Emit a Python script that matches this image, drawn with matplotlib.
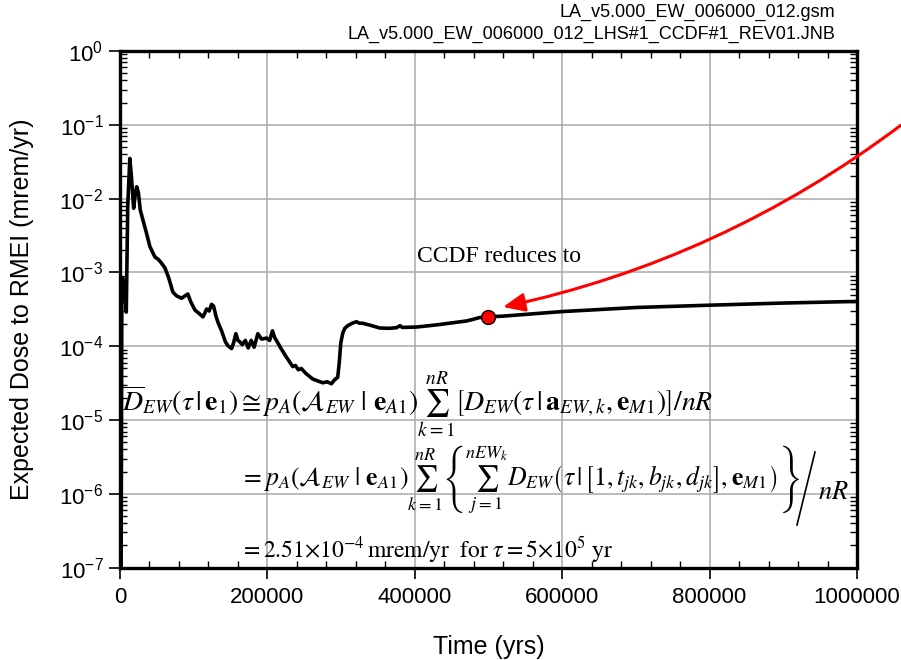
import matplotlib
matplotlib.use("Agg")
import matplotlib.pyplot as plt
from matplotlib.lines import Line2D
from matplotlib.ticker import MultipleLocator, LogLocator, FixedLocator

plt.rcParams["font.family"] = ["Liberation Sans", "DejaVu Sans"]
plt.rcParams["mathtext.fontset"] = "custom"
plt.rcParams["mathtext.rm"] = "Liberation Sans"
plt.rcParams["mathtext.it"] = "Liberation Sans:italic"
plt.rcParams["mathtext.bf"] = "Liberation Sans:bold"

# expected dose history (yr, mrem/yr)
time_yr = [0, 1000, 2500, 4000, 6000, 8500, 10500, 13300, 15500, 18500, 20500,
           22600, 25000, 27500, 31200, 35000, 40600, 44000, 47400, 52000, 56000,
           61000, 66000, 71800, 77000, 83600, 88000, 92100, 96000, 101600, 107000,
           112500, 115000, 117500, 121000, 124300, 127000, 130000, 133000, 138000,
           143000, 146300, 151400, 154000, 157200, 160000, 162600, 166000, 170000,
           174000, 178000, 182000, 187000, 192000, 198800, 203000, 206900, 210000,
           212300, 218000, 225900, 234400, 238000, 242000, 246000, 252000, 261500,
           268000, 275100, 281000, 286900, 291000, 295400, 297500, 299500, 302200,
           305000, 309000, 315000, 320700, 325000, 329300, 340000, 352300, 365000,
           375000, 380000, 383000, 402000, 430000, 470000, 478000, 488000, 500000,
           520000, 560000, 600000, 700000, 800000, 900000, 1000000]
dose = [1e-9, 1e-9, 5e-4, 8.3e-4, 7e-4, 2.9e-4, 8e-3, 3.5e-2, 2e-2, 7.4e-3, 1.1e-2,
        1.45e-2, 1.2e-2, 7e-3, 5.1e-3, 3.7e-3, 2.24e-3, 1.9e-3, 1.62e-3, 1.5e-3, 1.35e-3,
        1.15e-3, 8.5e-4, 5.4e-4, 4.8e-4, 4.47e-4, 4.8e-4, 5.1e-4, 4e-4, 3.1e-4, 2.8e-4,
        2.5e-4, 2.8e-4, 3.2e-4, 3.0e-4, 3.7e-4, 3.5e-4, 2.6e-4, 2.1e-4, 1.6e-4,
        1.15e-4, 1.02e-4, 9.3e-5, 1.1e-4, 1.48e-4, 1.2e-4, 1.15e-4, 1.05e-4, 1.2e-4,
        9.5e-5, 1.2e-4, 9.7e-5, 1.48e-4, 1.25e-4, 1.29e-4, 1.2e-4, 1.62e-4, 1.3e-4,
        1.2e-4, 9.5e-5, 7.1e-5, 5.3e-5, 5.5e-5, 4.8e-5, 5e-5, 4.3e-5, 3.6e-5,
        3.4e-5, 3.2e-5, 3.3e-5, 3.1e-5, 3.5e-5, 3.8e-5, 6e-5, 1.1e-4, 1.5e-4,
        1.75e-4, 1.9e-4, 2.05e-4, 2.15e-4, 2.05e-4, 2.05e-4, 1.92e-4, 1.77e-4, 1.75e-4,
        1.78e-4, 1.9e-4, 1.8e-4, 1.82e-4, 1.95e-4, 2.2e-4, 2.3e-4, 2.45e-4, 2.51e-4,
        2.56e-4, 2.75e-4, 2.95e-4, 3.35e-4, 3.6e-4, 3.85e-4, 4.05e-4]

tau_yr = 500000
dose_at_tau = 2.51e-4
arrow_tail = (1059700, 0.099)
arrow_tip = (519700, 3.4e-4)

x_ticks = [0, 200000, 400000, 600000, 800000, 1000000]
x_ticklabels = ["0", "200000", "400000", "600000", "800000", "1000000"]

fig = plt.figure(figsize=(9.01, 6.6), dpi=100)
ax = fig.add_axes([120 / 901, 1 - 567.7 / 660, 737 / 901, 516.7 / 660])

ax.plot(time_yr, dose, color="black", lw=2.6, zorder=3)
ax.plot([tau_yr], [dose_at_tau], "o", ms=10, mfc="red", mec="black", mew=1, zorder=5)

ax.set_yscale("log")
ax.set_xlim(0, 1000000)
ax.set_ylim(1e-7, 1)
ax.xaxis.set_major_locator(FixedLocator(x_ticks))
ax.set_xticklabels(x_ticklabels)
ax.xaxis.set_minor_locator(MultipleLocator(40000))
ax.yaxis.set_major_locator(LogLocator(base=10, numticks=20))
ax.yaxis.set_minor_locator(LogLocator(base=10, subs=range(2, 10), numticks=20))

ax.grid(True, which="major", color="#a8a8a8", lw=1.1)
ax.set_axisbelow(True)
for sp in ax.spines.values():
    sp.set_linewidth(2.4)

ax.tick_params(which="major", direction="out", length=8, width=1.2, labelsize=16)
ax.tick_params(axis="x", which="major", top=False, pad=6)
ax.tick_params(axis="y", which="major", right=False, pad=4)
ax.tick_params(which="minor", direction="in", length=5, width=1.0, top=True, right=True)

fig.text(489 / 901, 1 - 647 / 660, "Time (yrs)", ha="center", va="center", fontsize=18)
fig.text(22 / 901, 1 - 309 / 660, "Expected Dose to RMEI (mrem/yr)", rotation=90,
         ha="center", va="center", fontsize=18)

fig.text(835 / 901, 1 - 12 / 660, "LA_v5.000_EW_006000_012.gsm", ha="right", va="center", fontsize=13)
fig.text(835 / 901, 1 - 34 / 660, "LA_v5.000_EW_006000_012_LHS#1_CCDF#1_REV01.JNB",
         ha="right", va="center", fontsize=13)

# annotation arrow coming in from beyond the right edge
ax.annotate("", xy=arrow_tip, xytext=arrow_tail, annotation_clip=False,
            arrowprops=dict(arrowstyle="-|>,head_length=0.65,head_width=0.28", color="red",
                            lw=2.2, mutation_scale=20, shrinkA=0, shrinkB=0,
                            connectionstyle="arc3,rad=-0.11"), zorder=6)

serif = dict(family="Liberation Serif", math_fontfamily="stix", color="black")
fig.text(417 / 901, 1 - 257 / 660, "CCDF reduces to", ha="left", va="center", fontsize=17, **serif)

eq1 = (r"$\overline{D}_{EW}(\tau\,|\,\mathbf{e}_1)\cong p_A(\mathcal{A}_{EW}\ |\ \mathbf{e}_{A1})"
       r"\sum_{k=1}^{nR}\left[D_{EW}\left(\tau\,|\,\mathbf{a}_{EW,k},\mathbf{e}_{M1}\right)\right]/nR$")
eq2 = (r"$= p_A(\mathcal{A}_{EW}\ |\ \mathbf{e}_{A1})\sum_{k=1}^{nR}\left\{\sum_{j=1}^{nEW_k}"
       r"D_{EW}\left(\tau\,|\,\left[1,t_{jk},b_{jk},d_{jk}\right],\mathbf{e}_{M1}\right)\right\}$")
eq3 = r"$= 2.51{\times}10^{-4}\,\mathrm{mrem/yr}\ \ \mathrm{for}\ \tau = 5{\times}10^{5}\ \mathrm{yr}$"

fig.text(122 / 901, 1 - 404 / 660, eq1, ha="left", va="center", fontsize=20, **serif)
fig.text(240 / 901, 1 - 480 / 660, eq2, ha="left", va="center", fontsize=18.5, **serif)
fig.add_artist(Line2D([797 / 901, 815 / 901], [1 - 525 / 660, 1 - 452 / 660],
                      transform=fig.transFigure, color="black", lw=1.2))
fig.text(818 / 901, 1 - 493 / 660, r"$nR$", ha="left", va="center", fontsize=19, **serif)
fig.text(240 / 901, 1 - 550 / 660, eq3, ha="left", va="center", fontsize=17, **serif)

fig.savefig("out.png", dpi=100)
